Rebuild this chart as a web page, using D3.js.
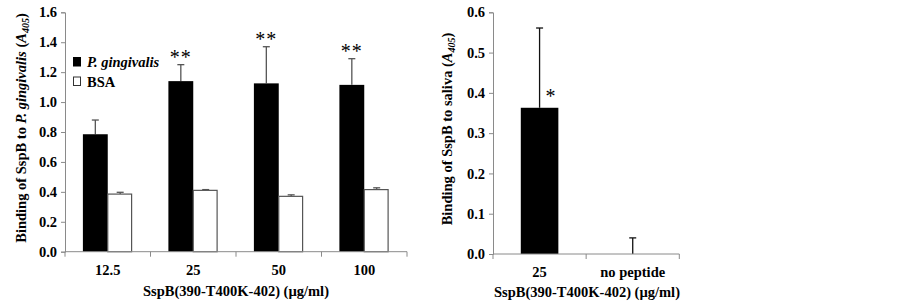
<!DOCTYPE html>
<html><head><meta charset="utf-8">
<script src="https://cdn.jsdelivr.net/npm/d3@7"></script>
<style>
html,body{margin:0;padding:0;background:#fff;}
svg text{font-family:"Liberation Serif","Times New Roman",serif;font-weight:bold;}
</style></head>
<body>
<svg id="c" width="902" height="308"></svg>
<script>
// ---- Data ----
const leftCategories = ["12.5", "25", "50", "100"];
const leftSeries = ["P. gingivalis", "BSA"];
const pgValues = [0.785, 1.14, 1.125, 1.115];
const pgErrors = [0.095, 0.11, 0.245, 0.175];
const bsaValues = [0.385, 0.41, 0.37, 0.415];
const bsaErrors = [0.012, 0.005, 0.01, 0.012];
const leftStars = ["", "**", "**", "**"];
const leftTicks = [0, 0.2, 0.4, 0.6, 0.8, 1.0, 1.2, 1.4, 1.6];

const rightCategories = ["25", "no peptide"];
const salivaValues = [0.363, 0.0];
const salivaErrors = [0.198, 0.04];
const rightStars = ["*", ""];
const rightTicks = [0, 0.1, 0.2, 0.3, 0.4, 0.5, 0.6];

const xTitle = "SspB(390-T400K-402) (\u00b5g/ml)";

const svg = d3.select("#c");
const axisColor = "#8a8a8a";
const FS = "14.5px";

function drawYAxis(g, y, x0, ticks, fmt) {
  const ax = d3.axisLeft(y).tickValues(ticks).tickFormat(fmt).tickSizeOuter(0).tickSize(4).tickPadding(4);
  const a = g.append("g").attr("transform", `translate(${x0},0)`).call(ax);
  a.select(".domain").attr("stroke", axisColor);
  a.selectAll(".tick line").attr("stroke", axisColor);
  a.selectAll(".tick text").attr("fill", "#000").style("font-size", FS);
}

function drawXAxis(g, x, yBase, cats) {
  const [r0, r1] = x.range();
  g.append("line").attr("x1", r0).attr("x2", r1).attr("y1", yBase).attr("y2", yBase).attr("stroke", axisColor);
  const bounds = cats.map(c => x(c)).concat([r1]);
  g.selectAll(null).data(bounds).enter().append("line")
    .attr("x1", d => d).attr("x2", d => d).attr("y1", yBase).attr("y2", yBase + 5).attr("stroke", axisColor);
  g.selectAll(null).data(cats).enter().append("text")
    .attr("x", d => x(d) + x.bandwidth() / 2).attr("y", yBase + 23)
    .attr("text-anchor", "middle").style("font-size", FS).text(d => d);
}

function errBar(g, cx, yTop, yVal, color) {
  g.append("line").attr("x1", cx).attr("x2", cx).attr("y1", yVal).attr("y2", yTop).attr("stroke", color).attr("stroke-width", 1.3);
  g.append("line").attr("x1", cx - 3.5).attr("x2", cx + 3.5).attr("y1", yTop).attr("y2", yTop).attr("stroke", color).attr("stroke-width", 1.3);
}

// ---- Left chart ----
{
  const g = svg.append("g");
  const y = d3.scaleLinear().domain([0, 1.6]).range([251.7, 12.3]);
  const x = d3.scaleBand().domain(leftCategories).range([65, 407]).padding(0);
  const xs = d3.scaleBand().domain(leftSeries).range([0, x.bandwidth()]).paddingInner(0).paddingOuter(0.72);

  leftCategories.forEach((c, i) => {
    const bx = x(c);
    errBar(g, bx + xs(leftSeries[0]) + xs.bandwidth() / 2, y(pgValues[i] + pgErrors[i]), y(pgValues[i]), "#555");
    errBar(g, bx + xs(leftSeries[1]) + xs.bandwidth() / 2, y(bsaValues[i] + bsaErrors[i]), y(bsaValues[i]), "#555");
    g.append("rect").attr("x", bx + xs(leftSeries[0])).attr("width", xs.bandwidth())
      .attr("y", y(pgValues[i])).attr("height", y(0) - y(pgValues[i])).attr("fill", "#000");
    g.append("rect").attr("x", bx + xs(leftSeries[1])).attr("width", xs.bandwidth() - 1)
      .attr("y", y(bsaValues[i])).attr("height", y(0) - y(bsaValues[i])).attr("fill", "#fff")
      .attr("stroke", "#555").attr("stroke-width", 1.2);
    if (leftStars[i]) {
      g.append("text").attr("x", bx + xs(leftSeries[0]) + xs.bandwidth() / 2)
        .attr("y", y(pgValues[i] + pgErrors[i]) - 1).attr("text-anchor", "middle")
        .style("font-size", "20px").style("font-weight", "normal").style("letter-spacing", "1px")
        .text(leftStars[i]);
    }
  });
  drawYAxis(g, y, 65, leftTicks, d3.format(".1f"));
  drawXAxis(g, x, 251.7, leftCategories);

  // legend
  const lg = g.append("g");
  lg.append("rect").attr("x", 73).attr("y", 57).attr("width", 8).attr("height", 9.5).attr("fill", "#000");
  lg.append("text").attr("x", 87).attr("y", 66.5).style("font-size", FS).style("font-style", "italic").text(leftSeries[0]);
  lg.append("rect").attr("x", 73.5).attr("y", 77).attr("width", 7).attr("height", 8.5).attr("fill", "#fff").attr("stroke", "#333").attr("stroke-width", 1);
  lg.append("text").attr("x", 87).attr("y", 86.5).style("font-size", FS).text(leftSeries[1]);

  // titles
  g.append("text").attr("x", 236).attr("y", 296).attr("text-anchor", "middle").style("font-size", FS).text(xTitle);
  const yt = g.append("text").attr("transform", "translate(26,128) rotate(-90)").attr("text-anchor", "middle").style("font-size", FS);
  yt.append("tspan").text("Binding of  SspB to ");
  yt.append("tspan").style("font-style", "italic").text("P. gingivalis");
  yt.append("tspan").text(" (");
  yt.append("tspan").style("font-style", "italic").text("A");
  yt.append("tspan").style("font-style", "italic").style("font-size", "10px").attr("dy", 3).text("405");
  yt.append("tspan").attr("dy", -3).text(")");
}

// ---- Right chart ----
{
  const g = svg.append("g");
  const y = d3.scaleLinear().domain([0, 0.6]).range([254, 12.3]);
  const x = d3.scaleBand().domain(rightCategories).range([493, 679.3]).padding(0);
  const xs = d3.scaleBand().domain(["saliva"]).range([0, x.bandwidth()]).paddingOuter(0.74);

  rightCategories.forEach((c, i) => {
    const bx = x(c) + xs("saliva");
    const cx = bx + xs.bandwidth() / 2;
    errBar(g, cx, y(salivaValues[i] + salivaErrors[i]), y(salivaValues[i]), "#111");
    if (salivaValues[i] > 0) {
      g.append("rect").attr("x", bx).attr("width", xs.bandwidth())
        .attr("y", y(salivaValues[i])).attr("height", y(0) - y(salivaValues[i])).attr("fill", "#000");
    }
    if (rightStars[i]) {
      g.append("text").attr("x", cx + 11).attr("y", y(salivaValues[i]) - 5).attr("text-anchor", "middle")
        .style("font-size", "20px").style("font-weight", "normal").text(rightStars[i]);
    }
  });
  drawYAxis(g, y, 493, rightTicks, d3.format(".1f"));
  drawXAxis(g, x, 254, rightCategories);

  g.append("text").attr("x", 587).attr("y", 297).attr("text-anchor", "middle").style("font-size", FS).text(xTitle);
  const yt = g.append("text").attr("transform", "translate(452,129) rotate(-90)").attr("text-anchor", "middle").style("font-size", FS);
  yt.append("tspan").text("Binding of  SspB to saliva (");
  yt.append("tspan").style("font-style", "italic").text("A");
  yt.append("tspan").style("font-style", "italic").style("font-size", "10px").attr("dy", 3).text("405");
  yt.append("tspan").attr("dy", -3).text(")");
}
</script>
</body></html>
